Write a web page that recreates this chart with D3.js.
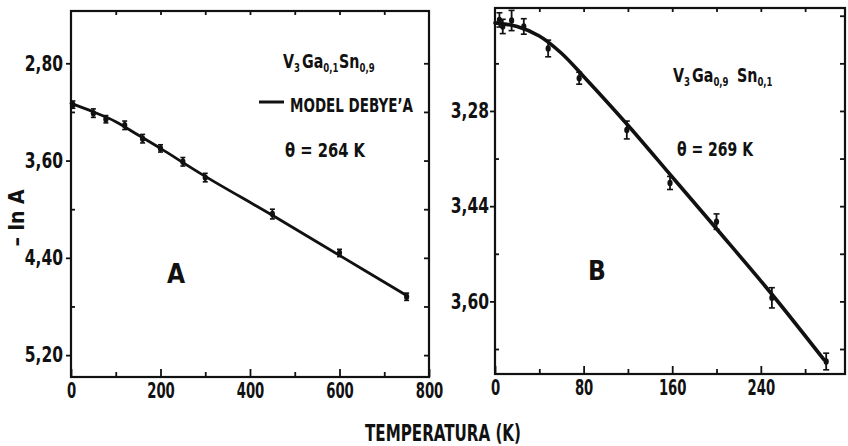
<!DOCTYPE html>
<html>
<head>
<meta charset="utf-8">
<script src="https://cdn.jsdelivr.net/npm/d3@7"></script>
<style>
  body { margin: 0; background: #fff; }
  text { font-family: "DejaVu Sans Condensed", "DejaVu Sans", sans-serif; font-weight: bold; fill: #111; }
</style>
</head>
<body>
<svg id="chart" width="848" height="446"></svg>
<script>
// ---- Panel A: V3Ga0.1Sn0.9, measured -ln A vs temperature ----
const tempA   = [4.2, 50, 78, 120, 160, 200, 250, 300, 450, 600, 750];
const lnA_A   = [3.14, 3.21, 3.26, 3.31, 3.42, 3.50, 3.61, 3.74, 4.04, 4.36, 4.72];
const errA    = [0.03, 0.035, 0.03, 0.035, 0.035, 0.03, 0.035, 0.035, 0.04, 0.03, 0.03];
// Debye model curve, theta = 264 K
const modelTempA = [0, 50, 100, 150, 200, 300, 450, 600, 750];
const modelA     = [3.13, 3.20, 3.28, 3.39, 3.50, 3.73, 4.05, 4.38, 4.71];
const xTicksA      = [0, 200, 400, 600, 800];
const xMinorTicksA = [100, 300, 500, 700];
const yTicksA      = [2.8, 3.6, 4.4, 5.2];
const yMinorTicksA = [3.2, 4.0, 4.8];

// ---- Panel B: V3Ga0.9Sn0.1 ----
const tempB   = [4, 7, 15, 26, 48, 76, 119, 158, 200, 250, 299];
const lnA_B   = [3.127, 3.138, 3.128, 3.138, 3.175, 3.225, 3.312, 3.401, 3.466, 3.594, 3.701];
const errB    = [0.012, 0.012, 0.017, 0.013, 0.014, 0.010, 0.015, 0.011, 0.013, 0.017, 0.014];
// Debye model curve, theta = 269 K
const modelTempB = [0, 20, 40, 60, 80, 120, 160, 200, 250, 297];
const modelB     = [3.132, 3.138, 3.154, 3.183, 3.222, 3.304, 3.391, 3.478, 3.588, 3.698];
const xTicksB      = [0, 80, 160, 240];
const xMinorTicksB = [40, 120, 200, 280];
const yTicksB      = [3.28, 3.44, 3.60];
const yMinorTicksB = [3.20, 3.36, 3.52, 3.68];
const yRightTicksB = [3.12, 3.20, 3.28, 3.36, 3.44, 3.52, 3.60, 3.68];

const fmtComma = d => d3.format(".2f")(d).replace(".", ",");

const svg = d3.select("#chart");

// squeeze a text horizontally to a fraction of its natural width
function condense(sel, f) {
  sel.each(function () {
    const w = this.getComputedTextLength();
    d3.select(this).attr("textLength", w * f).attr("lengthAdjust", "spacingAndGlyphs");
  });
}

function drawPanel(o) {
  const g = svg.append("g");
  const [x0, x1] = o.x.range();
  const [y0, y1] = o.y.range();

  const clean = sel => {
    sel.select(".domain").remove();
    sel.selectAll(".tick line").attr("stroke", "#111").attr("stroke-width", 1.8);
  };

  // bottom axis: major ticks with labels, minor ticks without
  const bx = g.append("g").attr("transform", `translate(0,${y1})`)
    .call(d3.axisBottom(o.x).tickValues(o.xTicks).tickSize(-8).tickPadding(6).tickFormat(d3.format("d")))
    .call(clean);
  bx.selectAll("text").attr("font-size", 21).attr("fill", "#111").style("font-family", null);
  condense(bx.selectAll("text"), 0.7);
  g.append("g").attr("transform", `translate(0,${y1})`)
    .call(d3.axisBottom(o.x).tickValues(o.xMinor).tickSize(-5).tickFormat(""))
    .call(clean);
  // top axis: inward ticks
  g.append("g").attr("transform", `translate(0,${y0})`)
    .call(d3.axisTop(o.x).tickValues(o.xTopTicks).tickSize(-4).tickFormat(""))
    .call(clean);
  // left axis: outward labelled majors, inward minors
  const ly = g.append("g").attr("transform", `translate(${x0},0)`)
    .call(d3.axisLeft(o.y).tickValues(o.yTicks).tickSize(5).tickPadding(o.yPad).tickFormat(fmtComma))
    .call(clean);
  ly.selectAll("text").attr("font-size", 21).attr("fill", "#111").style("font-family", null);
  condense(ly.selectAll("text"), 0.82);
  g.append("g").attr("transform", `translate(${x0},0)`)
    .call(d3.axisLeft(o.y).tickValues(o.yMinor).tickSize(-4).tickFormat(""))
    .call(clean);
  // right axis: inward ticks
  g.append("g").attr("transform", `translate(${x1},0)`)
    .call(d3.axisRight(o.y).tickValues(o.yRight).tickSize(-5).tickFormat(""))
    .call(clean);

  // frame
  g.append("rect")
    .attr("x", x0).attr("y", y0)
    .attr("width", x1 - x0).attr("height", y1 - y0)
    .attr("fill", "none").attr("stroke", "#111").attr("stroke-width", 2.2);

  // model curve
  const line = d3.line().x(d => o.x(d[0])).y(d => o.y(d[1])).curve(d3.curveCatmullRom.alpha(0.5));
  g.append("path")
    .datum(d3.zip(o.modelT, o.modelV))
    .attr("d", line)
    .attr("fill", "none").attr("stroke", "#111")
    .attr("stroke-width", o.lineW).attr("stroke-linecap", "round");

  // measured points with error bars
  const pts = d3.zip(o.t, o.v, o.e);
  const pg = g.append("g").selectAll("g").data(pts).join("g");
  pg.append("line")
    .attr("x1", d => o.x(d[0])).attr("x2", d => o.x(d[0]))
    .attr("y1", d => o.y(d[1] - d[2])).attr("y2", d => o.y(d[1] + d[2]))
    .attr("stroke", "#111").attr("stroke-width", 1.8);
  [-1, 1].forEach(s => {
    pg.append("line")
      .attr("x1", d => o.x(d[0]) - o.cap).attr("x2", d => o.x(d[0]) + o.cap)
      .attr("y1", d => o.y(d[1] + s * d[2])).attr("y2", d => o.y(d[1] + s * d[2]))
      .attr("stroke", "#111").attr("stroke-width", 1.6);
  });
  pg.append("ellipse")
    .attr("cx", d => o.x(d[0])).attr("cy", d => o.y(d[1]))
    .attr("rx", 2.6).attr("ry", 3.2)
    .attr("fill", "#111");
  return g;
}

// scales
const xA = d3.scaleLinear().domain([0, 800]).range([71, 429]);
const yA = d3.scaleLinear().domain([2.37, 5.38]).range([11, 377]);
const xB = d3.scaleLinear().domain([0, 316]).range([495, 845]);
const yB = d3.scaleLinear().domain([3.107, 3.722]).range([8, 374]);

drawPanel({
  x: xA, y: yA, xTicks: xTicksA, xMinor: xMinorTicksA,
  xTopTicks: d3.merge([xTicksA, xMinorTicksA]).filter(d => d > 0 && d < 800),
  yTicks: yTicksA, yMinor: yMinorTicksA, yRight: d3.merge([yTicksA, yMinorTicksA]), yPad: 3,
  modelT: modelTempA, modelV: modelA, lineW: 2.8,
  t: tempA, v: lnA_A, e: errA, cap: 2.5
});
drawPanel({
  x: xB, y: yB, xTicks: xTicksB, xMinor: xMinorTicksB,
  xTopTicks: d3.merge([xTicksB, xMinorTicksB]).filter(d => d > 0),
  yTicks: yTicksB, yMinor: yMinorTicksB, yRight: yRightTicksB, yPad: 1,
  modelT: modelTempB, modelV: modelB, lineW: 3.6,
  t: tempB, v: lnA_B, e: errB, cap: 3
});

// chemical formula: each part is its own text, laid out left to right,
// then the whole group is squeezed horizontally to the requested width
function formula(x, y, parts, totalW) {
  const g = svg.append("g");
  let cx = 0;
  parts.forEach(p => {
    const [str, sub, gapBefore] = p;
    cx += gapBefore || 0;
    const t = g.append("text")
      .attr("x", cx).attr("y", sub ? 4 : 0)
      .attr("font-size", sub ? 12 : 20)
      .text(str);
    cx += t.node().getComputedTextLength() + (sub ? 0.5 : 0);
  });
  g.attr("transform", `translate(${x},${y}) scale(${totalW / cx},1)`);
  return g;
}

// Panel A annotations
formula(283, 68, [["V"], ["3", true], ["Ga", false, 2], ["0,1", true], ["Sn"], ["0,9", true]], 92);
svg.append("line").attr("x1", 259).attr("x2", 284).attr("y1", 102).attr("y2", 102)
  .attr("stroke", "#111").attr("stroke-width", 3);
svg.append("text").attr("x", 290).attr("y", 112).attr("font-size", 20)
  .attr("textLength", 123).attr("lengthAdjust", "spacingAndGlyphs").text("MODEL DEBYE’A");
svg.append("text").attr("x", 285).attr("y", 157).attr("font-size", 20)
  .attr("textLength", 80).attr("lengthAdjust", "spacingAndGlyphs").text("θ = 264 K");
svg.append("text").attr("x", 167).attr("y", 283).attr("font-size", 26).text("A");

// Panel B annotations
formula(673, 82, [["V"], ["3", true], ["Ga", false, 2], ["0,9", true], ["Sn", false, 10], ["0,1", true]], 100);
svg.append("text").attr("x", 677).attr("y", 156).attr("font-size", 20)
  .attr("textLength", 76).attr("lengthAdjust", "spacingAndGlyphs").text("θ = 269 K");
svg.append("text").attr("x", 588).attr("y", 280).attr("font-size", 26).text("B");

// shared axis titles
svg.append("text").attr("x", 443).attr("y", 441).attr("font-size", 23)
  .attr("text-anchor", "middle")
  .attr("textLength", 156).attr("lengthAdjust", "spacingAndGlyphs")
  .text("TEMPERATURA (K)");
svg.append("text").attr("transform", "translate(24,218) rotate(-90)")
  .attr("font-size", 21).attr("text-anchor", "middle").text("– ln A");
</script>
</body>
</html>
